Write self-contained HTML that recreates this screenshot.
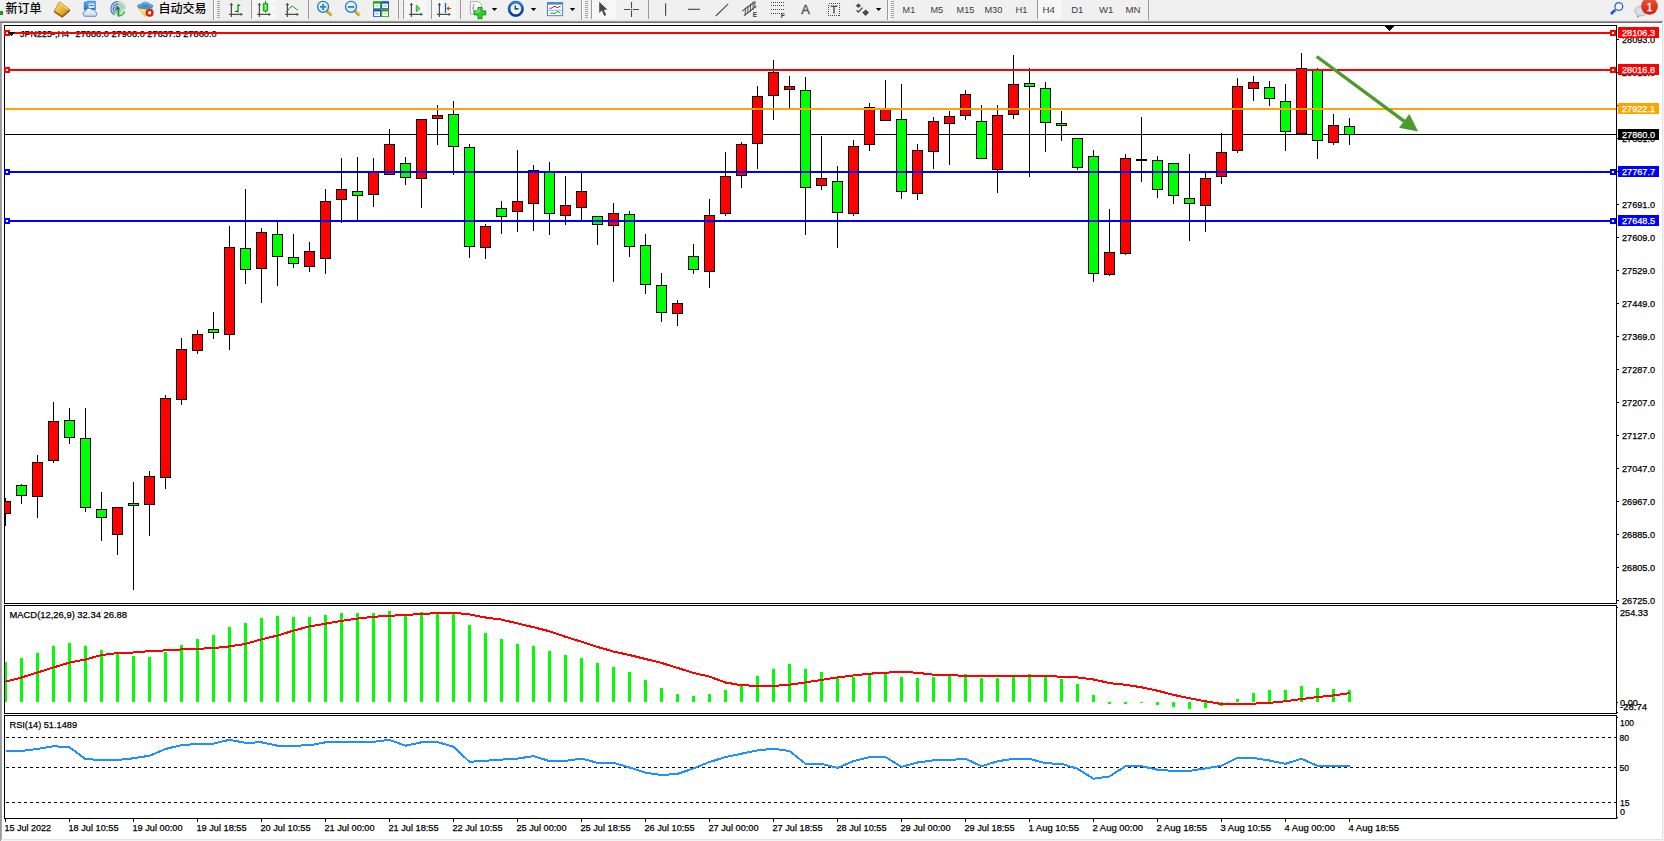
<!DOCTYPE html>
<html lang="zh"><head><meta charset="utf-8"><title>JPN225-,H4</title>
<style>html,body{margin:0;padding:0;background:#fff;}body{width:1664px;height:841px;overflow:hidden;}svg{display:block;position:absolute;left:0;top:0;}text{font-family:"Liberation Sans", "Noto Sans CJK SC", sans-serif;}.c{shape-rendering:crispEdges;}.t{font-size:9.6px;fill:#000;stroke:#000;stroke-width:0.25px;}.w{font-size:9.6px;fill:#fff;stroke:#fff;stroke-width:0.25px;}.tf{font-size:9.7px;fill:#3c3c3c;}.cj{font-size:12px;fill:#000;font-weight:500;}</style></head><body>
<svg width="1664" height="841" viewBox="0 0 1664 841">
<g class="c">
<rect x="0" y="0" width="1664" height="841" fill="#ffffff"/>
<rect x="0" y="0" width="1664" height="20" fill="#f0f0f0"/>
<rect x="0" y="20" width="1663" height="1" fill="#e3e3e3"/>
<rect x="0" y="21" width="1663" height="1" fill="#a0a0a0"/>
<rect x="0" y="22" width="1662" height="1" fill="#696969"/>
<rect x="0" y="21" width="1" height="820" fill="#9a9a9a"/>
<rect x="1" y="23" width="1" height="817" fill="#a6a6a6"/>
<rect x="1662" y="23" width="1" height="817" fill="#e3e3e3"/>
<rect x="1663" y="20" width="1" height="821" fill="#f4f4f4"/>
<rect x="1" y="839" width="1662" height="1" fill="#e3e3e3"/>
<rect x="1" y="840" width="1663" height="1" fill="#f4f4f4"/>
</g>
<defs>
<linearGradient id="gGold" x1="0" y1="0" x2="1" y2="1"><stop offset="0" stop-color="#fbe58a"/><stop offset="0.5" stop-color="#e9b630"/><stop offset="1" stop-color="#b97c14"/></linearGradient>
<linearGradient id="gBlue" x1="0" y1="0" x2="0" y2="1"><stop offset="0" stop-color="#5ab4f6"/><stop offset="1" stop-color="#1a72d6"/></linearGradient>
<linearGradient id="gCloud" x1="0" y1="0" x2="0" y2="1"><stop offset="0" stop-color="#ffffff"/><stop offset="1" stop-color="#c5d2ea"/></linearGradient>
<linearGradient id="gHat" x1="0" y1="0" x2="0" y2="1"><stop offset="0" stop-color="#7cc0ec"/><stop offset="1" stop-color="#2a7fc4"/></linearGradient>
<linearGradient id="gYel" x1="0" y1="0" x2="1" y2="1"><stop offset="0" stop-color="#fff3a0"/><stop offset="1" stop-color="#e8b820"/></linearGradient>
<linearGradient id="gRed" x1="0" y1="0" x2="0" y2="1"><stop offset="0" stop-color="#ea5a3c"/><stop offset="1" stop-color="#d51c0c"/></linearGradient>
<linearGradient id="gGreen" x1="0" y1="0" x2="1" y2="0"><stop offset="0" stop-color="#0fc40f"/><stop offset="0.5" stop-color="#7dff7d"/><stop offset="1" stop-color="#0fc40f"/></linearGradient>
<radialGradient id="gLens" cx="0.4" cy="0.35" r="0.7"><stop offset="0" stop-color="#f4fcff"/><stop offset="1" stop-color="#bfe6f6"/></radialGradient>
<radialGradient id="gSig" cx="0.5" cy="0.5" r="0.5"><stop offset="0" stop-color="#8fcf8f" stop-opacity="0.9"/><stop offset="0.7" stop-color="#9fd09f" stop-opacity="0.6"/><stop offset="1" stop-color="#b0d8b0" stop-opacity="0.1"/></radialGradient>
<pattern id="pChk" width="2" height="2" patternUnits="userSpaceOnUse"><rect width="2" height="2" fill="#f0f0f0"/><rect width="1" height="1" fill="#ffffff"/><rect x="1" y="1" width="1" height="1" fill="#ffffff"/></pattern>
<g id="axes"><path d="M2.4 4V16.9M0 14.4H12.6" fill="none" stroke="#4d4d4d" stroke-width="1.25"/><path d="M2.4 2.6L0.7 5.3H4.1ZM14 14.4L11.6 12.7V16.1Z" fill="#4d4d4d"/></g>
<path id="dd" d="M0 0h5.4l-2.7 3z" fill="#000"/>
<g id="grip" class="c" fill="#a6a6a6"><rect y="1" width="3" height="1"/><rect y="3" width="3" height="1"/><rect y="5" width="3" height="1"/><rect y="7" width="3" height="1"/><rect y="9" width="3" height="1"/><rect y="11" width="3" height="1"/><rect y="13" width="3" height="1"/><rect y="15" width="3" height="1"/><rect y="17" width="3" height="1"/></g>
<linearGradient id="gClk" x1="0" y1="0" x2="0" y2="1"><stop offset="0" stop-color="#2a80e8"/><stop offset="1" stop-color="#0a3a9a"/></linearGradient>
</defs>
<g id="toolbar">
<!-- pressed button backgrounds -->
<g class="c">
<rect x="252" y="0" width="24" height="19" fill="url(#pChk)"/>
<rect x="404" y="0" width="24" height="19" fill="url(#pChk)"/>
<rect x="432" y="0" width="24" height="19" fill="url(#pChk)"/>
<rect x="592" y="0" width="24" height="19" fill="url(#pChk)"/>
<rect x="1038" y="0" width="24" height="19" fill="url(#pChk)"/>
<!-- separators -->
<g fill="#9a9a9a">
<rect x="213" y="0" width="1" height="20"/>
<rect x="251" y="0" width="1" height="19"/>
<rect x="308" y="0" width="1" height="19"/>
<rect x="398" y="0" width="1" height="19"/>
<rect x="403" y="0" width="1" height="19"/>
<rect x="431" y="0" width="1" height="19"/>
<rect x="460" y="0" width="1" height="19"/>
<rect x="581" y="0" width="1" height="20"/>
<rect x="591" y="0" width="1" height="19"/>
<rect x="648" y="0" width="1" height="19"/>
<rect x="887" y="0" width="1" height="20"/>
<rect x="1037" y="0" width="1" height="19"/>
<rect x="1148" y="0" width="1" height="20"/>
</g>
<g fill="#ffffff"><rect x="214" y="0" width="1" height="20"/><rect x="582" y="0" width="1" height="20"/><rect x="888" y="0" width="1" height="20"/></g>
<rect x="0" y="11" width="3" height="4" fill="#1f9a1f"/>
</g>
<use href="#grip" x="217" y="0"/><use href="#grip" x="585" y="0"/><use href="#grip" x="891" y="0"/>

<text class="cj" x="5.5" y="12.6">新订单</text>
<text class="cj" x="158.5" y="12.6">自动交易</text>

<!-- book -->
<path d="M59.8 2.1C58.4 2.6 57.6 4.2 57.2 6L54 11.2L62.3 16.9L69.9 9.9Z" fill="url(#gGold)" stroke="#a06c10" stroke-width="0.7" stroke-linejoin="round"/>
<path d="M54.3 11.6L62.3 16.8L69.7 10.4" fill="none" stroke="#8a5a0e" stroke-width="1.5" stroke-linejoin="round"/>
<path d="M60.2 3.4L67.6 9.2" fill="none" stroke="#fff4b8" stroke-width="0.8"/>
<!-- computer + cloud -->
<path d="M84.2 2.4L88 1.2H95.3V9.9H84.2Z" fill="url(#gBlue)" stroke="#1565c8" stroke-width="0.6"/>
<rect x="88.6" y="3.4" width="5.8" height="4.6" fill="#d8ecfb"/>
<rect x="89.5" y="5" width="4" height="1" fill="#2a7fd8"/>
<path d="M85 16.3a2.6 2.6 0 0 1 0.6-5.1a3.4 3.4 0 0 1 6.3-1.2a2.5 2.5 0 0 1 3.6 2.1a2.2 2.2 0 0 1-0.3 4.2z" fill="url(#gCloud)" stroke="#5f7fba" stroke-width="0.9"/>
<!-- signal -->
<circle cx="118" cy="8.8" r="7.4" fill="url(#gSig)"/>
<g fill="none" stroke="#3a6fd0" stroke-width="1.1"><path d="M118 1.6a7.2 7.2 0 0 0 -3.5 13.4"/><path d="M118 4a4.8 4.8 0 0 0 -2.6 8.8"/><path d="M118 6.4a2.4 2.4 0 0 0 -1.4 4.3" /></g>
<g fill="none" stroke="#8fc29a" stroke-width="1"><path d="M118 1.6a7.2 7.2 0 0 1 7.2 7.2"/><path d="M118 4a4.8 4.8 0 0 1 4.8 4.8"/></g>
<circle cx="118" cy="8.6" r="1.6" fill="#2456c8"/>
<path d="M118.4 9.4V16.4" stroke="#16a616" stroke-width="1.8" fill="none"/>
<path d="M118.4 16.2a7.4 7.4 0 0 0 6.4 -4.6" stroke="#2fae3a" stroke-width="1.3" fill="none"/>
<!-- hat + stop -->
<path d="M138.2 8.4L145.2 16.6L152.4 8.4Z" fill="url(#gYel)" stroke="#d8a818" stroke-width="0.6"/>
<ellipse cx="145.2" cy="6.2" rx="7.8" ry="2.6" fill="url(#gHat)" stroke="#2a78b8" stroke-width="0.6"/>
<ellipse cx="145.4" cy="4" rx="4" ry="2.6" fill="url(#gHat)"/>
<circle cx="149.6" cy="12.8" r="4" fill="#d62410"/>
<rect x="148.2" y="11.4" width="2.8" height="2.8" fill="#ffffff"/>

<!-- chart type icons -->
<use href="#axes" x="229" y="0"/>
<path d="M238 4.3V12.6M238 5.3H240.3M235 11.4H238" fill="none" stroke="#0a800a" stroke-width="1.25"/>
<use href="#axes" x="257" y="0"/>
<path d="M265.5 1.2V12.6" stroke="#0a8a0a" stroke-width="1.2" fill="none"/>
<rect x="263.3" y="3.7" width="4.4" height="7.2" fill="url(#gGreen)" stroke="#0a9a0a" stroke-width="0.9"/>
<use href="#axes" x="285" y="0"/>
<path d="M286.2 11.8C288.5 10.6 290 6.3 292.4 6.3C294.2 6.3 295.6 9.4 297.8 10.2" fill="none" stroke="#1a8a1a" stroke-width="1"/>

<!-- zoom in / out -->
<path d="M327 11L331.6 15.4" stroke="#c8a21c" stroke-width="3.2" fill="none" stroke-linecap="butt"/>
<path d="M327.6 10.6L332.4 14.8" stroke="#f0d878" stroke-width="1" fill="none"/>
<circle cx="323.1" cy="6.8" r="5.5" fill="url(#gLens)" stroke="#2a78c4" stroke-width="1.3"/>
<path d="M320 6.9H326.2M323.1 3.8V10" stroke="#3a82b4" stroke-width="1.9" fill="none"/>
<path d="M354.9 11L359.5 15.4" stroke="#c8a21c" stroke-width="3.2" fill="none"/>
<path d="M355.5 10.6L360.3 14.8" stroke="#f0d878" stroke-width="1" fill="none"/>
<circle cx="351" cy="6.8" r="5.5" fill="url(#gLens)" stroke="#2a78c4" stroke-width="1.3"/>
<path d="M347.9 6.9H354.1" stroke="#3a82b4" stroke-width="1.9" fill="none"/>
<!-- tile grid -->
<g>
<rect x="373.1" y="1.2" width="7.9" height="7.8" fill="#2f9d12"/><rect x="381.1" y="1.2" width="7.9" height="7.8" fill="#1b50d2"/>
<rect x="373.1" y="9.1" width="7.9" height="7.8" fill="#1b50d2"/><rect x="381.1" y="9.1" width="7.9" height="7.8" fill="#2f9d12"/>
<g fill="#ffffff"><rect x="374.2" y="3.6" width="5.8" height="4.6"/><rect x="382.2" y="3.6" width="5.8" height="4.6"/><rect x="374.2" y="11.5" width="5.8" height="4.6"/><rect x="382.2" y="11.5" width="5.8" height="4.6"/></g>
<rect x="375.3" y="5.4" width="3.6" height="0.9" fill="#8ed070"/><rect x="383.3" y="5.4" width="3.6" height="0.9" fill="#7fa0f0"/>
<rect x="375.3" y="13.3" width="3.6" height="0.9" fill="#7fa0f0"/><rect x="383.3" y="13.3" width="3.6" height="0.9" fill="#8ed070"/>
</g>

<!-- autoscroll / shift -->
<use href="#axes" x="409" y="0"/>
<path d="M416.3 5.2V11.8L420 8.5Z" fill="#5fe85f" stroke="#14a814" stroke-width="0.9"/>
<use href="#axes" x="437" y="0"/>
<path d="M445.5 3V12.9" stroke="#1a6aa8" stroke-width="1.4" fill="none"/>
<path d="M446.3 8.5L449 6.2V7.9H451V9.1H449V10.8Z" fill="#d84a00"/>

<!-- new indicator -->
<path d="M470.4 1.6H478.6L481.6 4.6V14H470.4Z" fill="#fbfbfb" stroke="#9a9a9a" stroke-width="0.8"/>
<path d="M474.6 4.2c-1.6 0-1.2 3-1.2 3c0 1-0.9 1-0.9 1s0.9 0 0.9 1c0 0-0.4 3 1.2 3" fill="none" stroke="#6a6a4a" stroke-width="0.8"/>
<path d="M478 7.5H482V10.9H485.8V14.9H482V18.7H478V14.9H474.2V10.9H478Z" fill="#2bd02b" stroke="#0b8c0b" stroke-width="0.9"/><path d="M479 8.5V11.9H475.2" fill="none" stroke="#9df59d" stroke-width="0.9"/>
<use href="#dd" x="491.8" y="8"/>
<!-- clock -->
<circle cx="515.8" cy="8.9" r="6.6" fill="#eef1f6" stroke="url(#gClk)" stroke-width="2.5"/>
<circle cx="515.8" cy="8.9" r="7.7" fill="none" stroke="#0c3f90" stroke-width="0.5"/>
<path d="M515.2 5.4V8.9H518.6" stroke="#111" stroke-width="1.1" fill="none"/>
<use href="#dd" x="530.8" y="8"/>
<!-- template -->
<rect x="547.4" y="2.5" width="15.3" height="13.2" fill="#ffffff" stroke="#3a78c8" stroke-width="0.9"/>
<rect x="547.4" y="2.5" width="15.3" height="2.2" fill="#4a8ada"/>
<rect x="547.4" y="9.8" width="15.3" height="0.8" fill="#6a9ad8"/>
<path d="M549.4 8.2L551.4 8.2L553.2 6.9L555 6.3L556.8 7.4L558.6 7.2L560.6 6.2" fill="none" stroke="#a02000" stroke-width="1"/>
<path d="M550.4 13.6L552.4 13L554.2 13.7L556 12.6L557.6 11.4L559 12.2L560.6 13.6" fill="none" stroke="#0a8a2a" stroke-width="1"/>
<use href="#dd" x="569.8" y="8"/>

<!-- cursor -->
<path d="M599.2 1.8V13L601.9 10.6L604.2 16L606.2 15.1L603.9 9.9L607.3 9.6Z" fill="#484848"/>
<!-- crosshair -->
<path d="M631.5 2V17M624 9.4H639" stroke="#4a4a4a" stroke-width="1.05" fill="none"/>
<rect x="630.4" y="8.3" width="2.2" height="2.2" fill="#f0f0f0"/>
<rect x="631.1" y="9" width="0.9" height="0.9" fill="#4a4a4a"/>
<!-- vline / hline / trend -->
<path d="M665.6 3.2V15.8" stroke="#4a4a4a" stroke-width="1.15" fill="none"/>
<path d="M688 9.3H700" stroke="#4a4a4a" stroke-width="1.15" fill="none"/>
<path d="M715.8 16L728.2 3.9" stroke="#4a4a4a" stroke-width="1.1" fill="none"/>
<!-- channel E -->
<g fill="none" stroke="#444" stroke-width="1.05"><path d="M742.2 11.2L754.4 2M744 15.6L756.2 6.4"/><path d="M745.4 7.6L745.2 15.6M748 5.8L747.8 13.6M750.6 3.8L750.4 11.6M753.2 1.6L753 9.8M755 1.2L754.8 8" stroke-width="0.9"/></g>
<text x="752.8" y="17.4" style="font-size:6.5px;font-weight:bold;fill:#3c3c3c;">E</text>
<!-- fibo F -->
<g class="c" stroke="#4a4a4a" stroke-width="1" stroke-dasharray="1 1" fill="none"><path d="M771 2.5H785"/><path d="M771 5.5H785"/><path d="M771 9.5H785"/><path d="M771 13.5H780"/></g>
<text x="780.8" y="17.6" style="font-size:6.5px;font-weight:bold;fill:#3c3c3c;">F</text>
<!-- A text -->
<text x="801.3" y="13.6" style="font-size:12.5px;fill:#555555;stroke:#555555;stroke-width:0.35px;" textLength="8.6" lengthAdjust="spacingAndGlyphs">A</text>
<!-- T label -->
<rect class="c" x="828.5" y="3.5" width="11" height="12" fill="none" stroke="#4a4a4a" stroke-width="1" stroke-dasharray="1 1"/>
<path d="M830.6 6.2H837.4M834 6.2V13.6" stroke="#555" stroke-width="1.5" fill="none"/>
<!-- arrows -->
<path d="M858.4 3.2L861.2 6.2H855.6Z" fill="#4a4a4a"/><path d="M858.4 8L855.8 5.6h5.2z" fill="#4a4a4a"/>
<path d="M856.6 10.2L858.4 12L862.6 7.6" fill="none" stroke="#4a4a4a" stroke-width="1.3"/>
<path d="M862.2 12.4L865.8 9.6L869 12.4L865.6 16Z" fill="#4a4a4a"/>
<use href="#dd" x="875.9" y="8"/>

<!-- timeframes -->
<text class="tf" x="902.6" y="13" textLength="12.6" lengthAdjust="spacingAndGlyphs">M1</text>
<text class="tf" x="930.4" y="13" textLength="12.8" lengthAdjust="spacingAndGlyphs">M5</text>
<text class="tf" x="956.6" y="13" textLength="17.6" lengthAdjust="spacingAndGlyphs">M15</text>
<text class="tf" x="984.4" y="13" textLength="18" lengthAdjust="spacingAndGlyphs">M30</text>
<text class="tf" x="1015.4" y="13" textLength="12" lengthAdjust="spacingAndGlyphs">H1</text>
<text class="tf" x="1042.4" y="13" textLength="12.4" lengthAdjust="spacingAndGlyphs">H4</text>
<text class="tf" x="1071.2" y="13" textLength="12.2" lengthAdjust="spacingAndGlyphs">D1</text>
<text class="tf" x="1099" y="13" textLength="14.4" lengthAdjust="spacingAndGlyphs">W1</text>
<text class="tf" x="1125.6" y="13" textLength="15" lengthAdjust="spacingAndGlyphs">MN</text>

<!-- search -->
<path d="M1615.2 9.8L1611 14" stroke="#1f50c8" stroke-width="2.6" fill="none"/>
<circle cx="1618.8" cy="6.5" r="3.9" fill="#f6f8ff" stroke="#2a5fd4" stroke-width="1.3"/>
<!-- chat bubble + badge -->
<path d="M1636 15.6L1638.4 18L1639.6 15.8" fill="#9a9a9a"/>
<ellipse cx="1641" cy="11" rx="6" ry="4.9" fill="#d9dcea" stroke="#b4b4b8" stroke-width="1"/>
<circle cx="1649.5" cy="6.3" r="8.4" fill="url(#gRed)"/>
<text x="1646.2" y="11.1" style="font-family:'Liberation Serif',serif;font-size:13px;fill:#ffffff;stroke:#ffffff;stroke-width:0.35px;">1</text>
</g>

<g class="c" fill="none" stroke="#000" stroke-width="1">
<rect x="4.5" y="25.5" width="1612" height="578"/>
<rect x="4.5" y="605.5" width="1612" height="108"/>
<rect x="4.5" y="715.5" width="1612" height="103"/>
</g>
<text class="t" x="20" y="37" textLength="49" lengthAdjust="spacingAndGlyphs">JPN225-,H4</text>
<text class="t" x="75.6" y="37" textLength="141" lengthAdjust="spacingAndGlyphs">27888.0 27908.0 27837.5 27860.0</text>
<path class="c" d="M1385 26h9l-4.5 5z" fill="#000"/>
<g class="c" fill="#000">
<rect x="1617" y="600" width="2" height="1"/>
<rect x="1617" y="567" width="2" height="1"/>
<rect x="1617" y="534" width="2" height="1"/>
<rect x="1617" y="501" width="2" height="1"/>
<rect x="1617" y="468" width="2" height="1"/>
<rect x="1617" y="435" width="2" height="1"/>
<rect x="1617" y="402" width="2" height="1"/>
<rect x="1617" y="369" width="2" height="1"/>
<rect x="1617" y="336" width="2" height="1"/>
<rect x="1617" y="303" width="2" height="1"/>
<rect x="1617" y="270" width="2" height="1"/>
<rect x="1617" y="237" width="2" height="1"/>
<rect x="1617" y="204" width="2" height="1"/>
<rect x="1617" y="171" width="2" height="1"/>
<rect x="1617" y="138" width="2" height="1"/>
<rect x="1617" y="105" width="2" height="1"/>
<rect x="1617" y="72" width="2" height="1"/>
<rect x="1617" y="39" width="2" height="1"/>
<rect x="1617" y="607" width="1" height="1"/><rect x="1617" y="702" width="1" height="1"/><rect x="1617" y="712" width="1" height="1"/>
<rect x="1617" y="717" width="1" height="1"/><rect x="1617" y="817" width="1" height="1"/>
</g>
<text class="t" x="1622" y="604" textLength="33" lengthAdjust="spacingAndGlyphs">26725.0</text>
<text class="t" x="1622" y="571" textLength="33" lengthAdjust="spacingAndGlyphs">26805.0</text>
<text class="t" x="1622" y="538" textLength="33" lengthAdjust="spacingAndGlyphs">26885.0</text>
<text class="t" x="1622" y="505" textLength="33" lengthAdjust="spacingAndGlyphs">26967.0</text>
<text class="t" x="1622" y="472" textLength="33" lengthAdjust="spacingAndGlyphs">27047.0</text>
<text class="t" x="1622" y="439" textLength="33" lengthAdjust="spacingAndGlyphs">27127.0</text>
<text class="t" x="1622" y="406" textLength="33" lengthAdjust="spacingAndGlyphs">27207.0</text>
<text class="t" x="1622" y="373" textLength="33" lengthAdjust="spacingAndGlyphs">27287.0</text>
<text class="t" x="1622" y="340" textLength="33" lengthAdjust="spacingAndGlyphs">27369.0</text>
<text class="t" x="1622" y="307" textLength="33" lengthAdjust="spacingAndGlyphs">27449.0</text>
<text class="t" x="1622" y="274" textLength="33" lengthAdjust="spacingAndGlyphs">27529.0</text>
<text class="t" x="1622" y="241" textLength="33" lengthAdjust="spacingAndGlyphs">27609.0</text>
<text class="t" x="1622" y="208" textLength="33" lengthAdjust="spacingAndGlyphs">27691.0</text>
<text class="t" x="1622" y="175" textLength="33" lengthAdjust="spacingAndGlyphs">27771.0</text>
<text class="t" x="1622" y="142" textLength="33" lengthAdjust="spacingAndGlyphs">27851.0</text>
<text class="t" x="1622" y="109" textLength="33" lengthAdjust="spacingAndGlyphs">27931.0</text>
<text class="t" x="1622" y="76" textLength="33" lengthAdjust="spacingAndGlyphs">28013.0</text>
<text class="t" x="1622" y="43" textLength="33" lengthAdjust="spacingAndGlyphs">28093.0</text>
<g class="c">
<rect x="5" y="134" width="1611" height="1" fill="#000"/>
<rect x="5" y="498" width="1" height="28" fill="#000"/>
<rect x="5" y="501" width="6" height="13" fill="#000"/>
<rect x="5" y="502" width="5" height="11" fill="#ff0000"/>
<rect x="21" y="484" width="1" height="20" fill="#000"/>
<rect x="16" y="485" width="11" height="11" fill="#000"/>
<rect x="17" y="486" width="9" height="9" fill="#00ff00"/>
<rect x="37" y="455" width="1" height="63" fill="#000"/>
<rect x="32" y="462" width="11" height="35" fill="#000"/>
<rect x="33" y="463" width="9" height="33" fill="#ff0000"/>
<rect x="53" y="402" width="1" height="61" fill="#000"/>
<rect x="48" y="421" width="11" height="40" fill="#000"/>
<rect x="49" y="422" width="9" height="38" fill="#ff0000"/>
<rect x="69" y="408" width="1" height="36" fill="#000"/>
<rect x="64" y="420" width="11" height="18" fill="#000"/>
<rect x="65" y="421" width="9" height="16" fill="#00ff00"/>
<rect x="85" y="408" width="1" height="104" fill="#000"/>
<rect x="80" y="438" width="11" height="70" fill="#000"/>
<rect x="81" y="439" width="9" height="68" fill="#00ff00"/>
<rect x="101" y="492" width="1" height="49" fill="#000"/>
<rect x="96" y="509" width="11" height="9" fill="#000"/>
<rect x="97" y="510" width="9" height="7" fill="#00ff00"/>
<rect x="117" y="507" width="1" height="48" fill="#000"/>
<rect x="112" y="507" width="11" height="28" fill="#000"/>
<rect x="113" y="508" width="9" height="26" fill="#ff0000"/>
<rect x="133" y="482" width="1" height="108" fill="#000"/>
<rect x="128" y="503" width="11" height="3" fill="#000"/>
<rect x="129" y="504" width="9" height="1" fill="#00ff00"/>
<rect x="149" y="471" width="1" height="65" fill="#000"/>
<rect x="144" y="476" width="11" height="29" fill="#000"/>
<rect x="145" y="477" width="9" height="27" fill="#ff0000"/>
<rect x="165" y="395" width="1" height="94" fill="#000"/>
<rect x="160" y="398" width="11" height="80" fill="#000"/>
<rect x="161" y="399" width="9" height="78" fill="#ff0000"/>
<rect x="181" y="338" width="1" height="67" fill="#000"/>
<rect x="176" y="349" width="11" height="51" fill="#000"/>
<rect x="177" y="350" width="9" height="49" fill="#ff0000"/>
<rect x="197" y="330" width="1" height="24" fill="#000"/>
<rect x="192" y="334" width="11" height="17" fill="#000"/>
<rect x="193" y="335" width="9" height="15" fill="#ff0000"/>
<rect x="213" y="312" width="1" height="27" fill="#000"/>
<rect x="208" y="329" width="11" height="4" fill="#000"/>
<rect x="209" y="330" width="9" height="2" fill="#00ff00"/>
<rect x="229" y="226" width="1" height="124" fill="#000"/>
<rect x="224" y="247" width="11" height="88" fill="#000"/>
<rect x="225" y="248" width="9" height="86" fill="#ff0000"/>
<rect x="245" y="189" width="1" height="95" fill="#000"/>
<rect x="240" y="248" width="11" height="22" fill="#000"/>
<rect x="241" y="249" width="9" height="20" fill="#00ff00"/>
<rect x="261" y="228" width="1" height="75" fill="#000"/>
<rect x="256" y="232" width="11" height="37" fill="#000"/>
<rect x="257" y="233" width="9" height="35" fill="#ff0000"/>
<rect x="277" y="221" width="1" height="65" fill="#000"/>
<rect x="272" y="234" width="11" height="23" fill="#000"/>
<rect x="273" y="235" width="9" height="21" fill="#00ff00"/>
<rect x="293" y="234" width="1" height="34" fill="#000"/>
<rect x="288" y="257" width="11" height="7" fill="#000"/>
<rect x="289" y="258" width="9" height="5" fill="#00ff00"/>
<rect x="309" y="242" width="1" height="30" fill="#000"/>
<rect x="304" y="251" width="11" height="16" fill="#000"/>
<rect x="305" y="252" width="9" height="14" fill="#ff0000"/>
<rect x="325" y="189" width="1" height="85" fill="#000"/>
<rect x="320" y="201" width="11" height="58" fill="#000"/>
<rect x="321" y="202" width="9" height="56" fill="#ff0000"/>
<rect x="341" y="158" width="1" height="65" fill="#000"/>
<rect x="336" y="189" width="11" height="11" fill="#000"/>
<rect x="337" y="190" width="9" height="9" fill="#ff0000"/>
<rect x="357" y="157" width="1" height="64" fill="#000"/>
<rect x="352" y="191" width="11" height="5" fill="#000"/>
<rect x="353" y="192" width="9" height="3" fill="#00ff00"/>
<rect x="373" y="158" width="1" height="49" fill="#000"/>
<rect x="368" y="172" width="11" height="23" fill="#000"/>
<rect x="369" y="173" width="9" height="21" fill="#ff0000"/>
<rect x="389" y="129" width="1" height="46" fill="#000"/>
<rect x="384" y="144" width="11" height="31" fill="#000"/>
<rect x="385" y="145" width="9" height="29" fill="#ff0000"/>
<rect x="405" y="157" width="1" height="28" fill="#000"/>
<rect x="400" y="163" width="11" height="15" fill="#000"/>
<rect x="401" y="164" width="9" height="13" fill="#00ff00"/>
<rect x="421" y="119" width="1" height="89" fill="#000"/>
<rect x="416" y="119" width="11" height="60" fill="#000"/>
<rect x="417" y="120" width="9" height="58" fill="#ff0000"/>
<rect x="437" y="105" width="1" height="40" fill="#000"/>
<rect x="432" y="115" width="11" height="4" fill="#000"/>
<rect x="433" y="116" width="9" height="2" fill="#ff0000"/>
<rect x="453" y="101" width="1" height="74" fill="#000"/>
<rect x="448" y="114" width="11" height="33" fill="#000"/>
<rect x="449" y="115" width="9" height="31" fill="#00ff00"/>
<rect x="469" y="144" width="1" height="114" fill="#000"/>
<rect x="464" y="147" width="11" height="100" fill="#000"/>
<rect x="465" y="148" width="9" height="98" fill="#00ff00"/>
<rect x="485" y="224" width="1" height="35" fill="#000"/>
<rect x="480" y="226" width="11" height="22" fill="#000"/>
<rect x="481" y="227" width="9" height="20" fill="#ff0000"/>
<rect x="501" y="201" width="1" height="33" fill="#000"/>
<rect x="496" y="208" width="11" height="9" fill="#000"/>
<rect x="497" y="209" width="9" height="7" fill="#00ff00"/>
<rect x="517" y="150" width="1" height="82" fill="#000"/>
<rect x="512" y="201" width="11" height="11" fill="#000"/>
<rect x="513" y="202" width="9" height="9" fill="#ff0000"/>
<rect x="533" y="165" width="1" height="66" fill="#000"/>
<rect x="528" y="170" width="11" height="34" fill="#000"/>
<rect x="529" y="171" width="9" height="32" fill="#ff0000"/>
<rect x="549" y="162" width="1" height="73" fill="#000"/>
<rect x="544" y="172" width="11" height="42" fill="#000"/>
<rect x="545" y="173" width="9" height="40" fill="#00ff00"/>
<rect x="565" y="176" width="1" height="49" fill="#000"/>
<rect x="560" y="205" width="11" height="11" fill="#000"/>
<rect x="561" y="206" width="9" height="9" fill="#ff0000"/>
<rect x="581" y="173" width="1" height="49" fill="#000"/>
<rect x="576" y="191" width="11" height="17" fill="#000"/>
<rect x="577" y="192" width="9" height="15" fill="#ff0000"/>
<rect x="597" y="216" width="1" height="29" fill="#000"/>
<rect x="592" y="216" width="11" height="9" fill="#000"/>
<rect x="593" y="217" width="9" height="7" fill="#00ff00"/>
<rect x="613" y="203" width="1" height="79" fill="#000"/>
<rect x="608" y="213" width="11" height="13" fill="#000"/>
<rect x="609" y="214" width="9" height="11" fill="#ff0000"/>
<rect x="629" y="211" width="1" height="46" fill="#000"/>
<rect x="624" y="214" width="11" height="33" fill="#000"/>
<rect x="625" y="215" width="9" height="31" fill="#00ff00"/>
<rect x="645" y="234" width="1" height="60" fill="#000"/>
<rect x="640" y="245" width="11" height="40" fill="#000"/>
<rect x="641" y="246" width="9" height="38" fill="#00ff00"/>
<rect x="661" y="273" width="1" height="49" fill="#000"/>
<rect x="656" y="285" width="11" height="28" fill="#000"/>
<rect x="657" y="286" width="9" height="26" fill="#00ff00"/>
<rect x="677" y="300" width="1" height="26" fill="#000"/>
<rect x="672" y="303" width="11" height="11" fill="#000"/>
<rect x="673" y="304" width="9" height="9" fill="#ff0000"/>
<rect x="693" y="244" width="1" height="30" fill="#000"/>
<rect x="688" y="256" width="11" height="14" fill="#000"/>
<rect x="689" y="257" width="9" height="12" fill="#00ff00"/>
<rect x="709" y="199" width="1" height="89" fill="#000"/>
<rect x="704" y="215" width="11" height="57" fill="#000"/>
<rect x="705" y="216" width="9" height="55" fill="#ff0000"/>
<rect x="725" y="152" width="1" height="64" fill="#000"/>
<rect x="720" y="176" width="11" height="38" fill="#000"/>
<rect x="721" y="177" width="9" height="36" fill="#ff0000"/>
<rect x="741" y="142" width="1" height="46" fill="#000"/>
<rect x="736" y="144" width="11" height="32" fill="#000"/>
<rect x="737" y="145" width="9" height="30" fill="#ff0000"/>
<rect x="757" y="86" width="1" height="83" fill="#000"/>
<rect x="752" y="96" width="11" height="48" fill="#000"/>
<rect x="753" y="97" width="9" height="46" fill="#ff0000"/>
<rect x="773" y="60" width="1" height="60" fill="#000"/>
<rect x="768" y="72" width="11" height="24" fill="#000"/>
<rect x="769" y="73" width="9" height="22" fill="#ff0000"/>
<rect x="789" y="76" width="1" height="32" fill="#000"/>
<rect x="784" y="86" width="11" height="4" fill="#000"/>
<rect x="785" y="87" width="9" height="2" fill="#ff0000"/>
<rect x="805" y="77" width="1" height="158" fill="#000"/>
<rect x="800" y="90" width="11" height="98" fill="#000"/>
<rect x="801" y="91" width="9" height="96" fill="#00ff00"/>
<rect x="821" y="136" width="1" height="54" fill="#000"/>
<rect x="816" y="178" width="11" height="8" fill="#000"/>
<rect x="817" y="179" width="9" height="6" fill="#ff0000"/>
<rect x="837" y="166" width="1" height="82" fill="#000"/>
<rect x="832" y="181" width="11" height="32" fill="#000"/>
<rect x="833" y="182" width="9" height="30" fill="#00ff00"/>
<rect x="853" y="140" width="1" height="76" fill="#000"/>
<rect x="848" y="146" width="11" height="68" fill="#000"/>
<rect x="849" y="147" width="9" height="66" fill="#ff0000"/>
<rect x="869" y="103" width="1" height="48" fill="#000"/>
<rect x="864" y="107" width="11" height="38" fill="#000"/>
<rect x="865" y="108" width="9" height="36" fill="#ff0000"/>
<rect x="885" y="80" width="1" height="41" fill="#000"/>
<rect x="880" y="108" width="11" height="13" fill="#000"/>
<rect x="881" y="109" width="9" height="11" fill="#ff0000"/>
<rect x="901" y="84" width="1" height="115" fill="#000"/>
<rect x="896" y="119" width="11" height="73" fill="#000"/>
<rect x="897" y="120" width="9" height="71" fill="#00ff00"/>
<rect x="917" y="144" width="1" height="56" fill="#000"/>
<rect x="912" y="150" width="11" height="44" fill="#000"/>
<rect x="913" y="151" width="9" height="42" fill="#ff0000"/>
<rect x="933" y="117" width="1" height="52" fill="#000"/>
<rect x="928" y="121" width="11" height="31" fill="#000"/>
<rect x="929" y="122" width="9" height="29" fill="#ff0000"/>
<rect x="949" y="111" width="1" height="54" fill="#000"/>
<rect x="944" y="116" width="11" height="8" fill="#000"/>
<rect x="945" y="117" width="9" height="6" fill="#ff0000"/>
<rect x="965" y="90" width="1" height="30" fill="#000"/>
<rect x="960" y="94" width="11" height="22" fill="#000"/>
<rect x="961" y="95" width="9" height="20" fill="#ff0000"/>
<rect x="981" y="105" width="1" height="54" fill="#000"/>
<rect x="976" y="121" width="11" height="38" fill="#000"/>
<rect x="977" y="122" width="9" height="36" fill="#00ff00"/>
<rect x="997" y="105" width="1" height="88" fill="#000"/>
<rect x="992" y="115" width="11" height="55" fill="#000"/>
<rect x="993" y="116" width="9" height="53" fill="#ff0000"/>
<rect x="1013" y="55" width="1" height="64" fill="#000"/>
<rect x="1008" y="84" width="11" height="31" fill="#000"/>
<rect x="1009" y="85" width="9" height="29" fill="#ff0000"/>
<rect x="1029" y="68" width="1" height="109" fill="#000"/>
<rect x="1024" y="83" width="11" height="4" fill="#000"/>
<rect x="1025" y="84" width="9" height="2" fill="#00ff00"/>
<rect x="1045" y="82" width="1" height="70" fill="#000"/>
<rect x="1040" y="88" width="11" height="35" fill="#000"/>
<rect x="1041" y="89" width="9" height="33" fill="#00ff00"/>
<rect x="1061" y="111" width="1" height="30" fill="#000"/>
<rect x="1056" y="123" width="11" height="3" fill="#000"/>
<rect x="1057" y="124" width="9" height="1" fill="#00ff00"/>
<rect x="1077" y="138" width="1" height="32" fill="#000"/>
<rect x="1072" y="138" width="11" height="30" fill="#000"/>
<rect x="1073" y="139" width="9" height="28" fill="#00ff00"/>
<rect x="1093" y="150" width="1" height="132" fill="#000"/>
<rect x="1088" y="156" width="11" height="118" fill="#000"/>
<rect x="1089" y="157" width="9" height="116" fill="#00ff00"/>
<rect x="1109" y="209" width="1" height="67" fill="#000"/>
<rect x="1104" y="252" width="11" height="23" fill="#000"/>
<rect x="1105" y="253" width="9" height="21" fill="#ff0000"/>
<rect x="1125" y="154" width="1" height="101" fill="#000"/>
<rect x="1120" y="158" width="11" height="96" fill="#000"/>
<rect x="1121" y="159" width="9" height="94" fill="#ff0000"/>
<rect x="1141" y="117" width="1" height="65" fill="#000"/>
<rect x="1136" y="159" width="11" height="2" fill="#000"/>
<rect x="1157" y="156" width="1" height="42" fill="#000"/>
<rect x="1152" y="160" width="11" height="30" fill="#000"/>
<rect x="1153" y="161" width="9" height="28" fill="#00ff00"/>
<rect x="1173" y="163" width="1" height="41" fill="#000"/>
<rect x="1168" y="163" width="11" height="33" fill="#000"/>
<rect x="1169" y="164" width="9" height="31" fill="#00ff00"/>
<rect x="1189" y="154" width="1" height="87" fill="#000"/>
<rect x="1184" y="198" width="11" height="6" fill="#000"/>
<rect x="1185" y="199" width="9" height="4" fill="#00ff00"/>
<rect x="1205" y="173" width="1" height="59" fill="#000"/>
<rect x="1200" y="178" width="11" height="28" fill="#000"/>
<rect x="1201" y="179" width="9" height="26" fill="#ff0000"/>
<rect x="1221" y="133" width="1" height="51" fill="#000"/>
<rect x="1216" y="152" width="11" height="25" fill="#000"/>
<rect x="1217" y="153" width="9" height="23" fill="#ff0000"/>
<rect x="1237" y="78" width="1" height="75" fill="#000"/>
<rect x="1232" y="86" width="11" height="65" fill="#000"/>
<rect x="1233" y="87" width="9" height="63" fill="#ff0000"/>
<rect x="1253" y="76" width="1" height="25" fill="#000"/>
<rect x="1248" y="82" width="11" height="7" fill="#000"/>
<rect x="1249" y="83" width="9" height="5" fill="#ff0000"/>
<rect x="1269" y="81" width="1" height="25" fill="#000"/>
<rect x="1264" y="87" width="11" height="12" fill="#000"/>
<rect x="1265" y="88" width="9" height="10" fill="#00ff00"/>
<rect x="1285" y="84" width="1" height="67" fill="#000"/>
<rect x="1280" y="101" width="11" height="31" fill="#000"/>
<rect x="1281" y="102" width="9" height="29" fill="#00ff00"/>
<rect x="1301" y="53" width="1" height="81" fill="#000"/>
<rect x="1296" y="68" width="11" height="66" fill="#000"/>
<rect x="1297" y="69" width="9" height="64" fill="#ff0000"/>
<rect x="1317" y="68" width="1" height="91" fill="#000"/>
<rect x="1312" y="69" width="11" height="72" fill="#000"/>
<rect x="1313" y="70" width="9" height="70" fill="#00ff00"/>
<rect x="1333" y="114" width="1" height="31" fill="#000"/>
<rect x="1328" y="125" width="11" height="18" fill="#000"/>
<rect x="1329" y="126" width="9" height="16" fill="#ff0000"/>
<rect x="1349" y="118" width="1" height="27" fill="#000"/>
<rect x="1344" y="126" width="11" height="9" fill="#000"/>
<rect x="1345" y="127" width="9" height="7" fill="#00ff00"/>
<rect x="5" y="32" width="1611" height="2" fill="#ff0000"/>
<rect x="4" y="30" width="6" height="6" fill="#ff0000"/>
<rect x="6" y="32" width="2" height="2" fill="#fff"/>
<rect x="1610" y="30" width="6" height="6" fill="#ff0000"/>
<rect x="1612" y="32" width="2" height="2" fill="#fff"/>
<rect x="5" y="69" width="1611" height="2" fill="#ff0000"/>
<rect x="4" y="67" width="6" height="6" fill="#ff0000"/>
<rect x="6" y="69" width="2" height="2" fill="#fff"/>
<rect x="1610" y="67" width="6" height="6" fill="#ff0000"/>
<rect x="1612" y="69" width="2" height="2" fill="#fff"/>
<rect x="5" y="108" width="1611" height="2" fill="#ffa500"/>
<rect x="5" y="171" width="1611" height="2" fill="#0000ff"/>
<rect x="4" y="169" width="6" height="6" fill="#0000ff"/>
<rect x="6" y="171" width="2" height="2" fill="#fff"/>
<rect x="1610" y="169" width="6" height="6" fill="#0000ff"/>
<rect x="1612" y="171" width="2" height="2" fill="#fff"/>
<rect x="5" y="220" width="1611" height="2" fill="#0000ff"/>
<rect x="4" y="218" width="6" height="6" fill="#0000ff"/>
<rect x="6" y="220" width="2" height="2" fill="#fff"/>
<rect x="1610" y="218" width="6" height="6" fill="#0000ff"/>
<rect x="1612" y="220" width="2" height="2" fill="#fff"/>
<rect x="8" y="32" width="7" height="1" fill="#000"/><rect x="9" y="33" width="5" height="1" fill="#000"/><rect x="10" y="34" width="3" height="1" fill="#000"/><rect x="11" y="35" width="1" height="1" fill="#000"/>
<rect x="1618" y="27" width="41" height="11" fill="#ff0000"/>
<rect x="1618" y="64" width="41" height="11" fill="#ff0000"/>
<rect x="1618" y="103" width="41" height="11" fill="#ffa500"/>
<rect x="1618" y="129" width="41" height="11" fill="#000000"/>
<rect x="1618" y="166" width="41" height="11" fill="#0000ff"/>
<rect x="1618" y="215" width="41" height="11" fill="#0000ff"/>
</g>
<text class="w" x="1622" y="36" textLength="33" lengthAdjust="spacingAndGlyphs">28106.3</text>
<text class="w" x="1622" y="73" textLength="33" lengthAdjust="spacingAndGlyphs">28016.8</text>
<text class="w" x="1622" y="112" textLength="33" lengthAdjust="spacingAndGlyphs">27922.1</text>
<text class="w" x="1622" y="138" textLength="33" lengthAdjust="spacingAndGlyphs">27860.0</text>
<text class="w" x="1622" y="175" textLength="33" lengthAdjust="spacingAndGlyphs">27767.7</text>
<text class="w" x="1622" y="224" textLength="33" lengthAdjust="spacingAndGlyphs">27648.5</text>
<g fill="#4c9b2c" stroke="none">
<path d="M1316.7 56.5L1404.4 121.3" stroke="#4c9b2c" stroke-width="3.4" fill="none"/>
<path d="M1409.4 114L1418.1 131.5L1399 127.8Z"/>
</g>
<g class="c">
<rect x="5" y="662" width="2" height="40" fill="#00ff00"/>
<rect x="20" y="658" width="3" height="44" fill="#00ff00"/>
<rect x="36" y="653" width="3" height="49" fill="#00ff00"/>
<rect x="52" y="646" width="3" height="56" fill="#00ff00"/>
<rect x="68" y="643" width="3" height="59" fill="#00ff00"/>
<rect x="84" y="646" width="3" height="56" fill="#00ff00"/>
<rect x="100" y="650" width="3" height="52" fill="#00ff00"/>
<rect x="116" y="654" width="3" height="48" fill="#00ff00"/>
<rect x="132" y="656" width="3" height="46" fill="#00ff00"/>
<rect x="148" y="657" width="3" height="45" fill="#00ff00"/>
<rect x="164" y="652" width="3" height="50" fill="#00ff00"/>
<rect x="180" y="645" width="3" height="57" fill="#00ff00"/>
<rect x="196" y="639" width="3" height="63" fill="#00ff00"/>
<rect x="212" y="635" width="3" height="67" fill="#00ff00"/>
<rect x="228" y="627" width="3" height="75" fill="#00ff00"/>
<rect x="244" y="623" width="3" height="79" fill="#00ff00"/>
<rect x="260" y="618" width="3" height="84" fill="#00ff00"/>
<rect x="276" y="616" width="3" height="86" fill="#00ff00"/>
<rect x="292" y="617" width="3" height="85" fill="#00ff00"/>
<rect x="308" y="617" width="3" height="85" fill="#00ff00"/>
<rect x="324" y="615" width="3" height="87" fill="#00ff00"/>
<rect x="340" y="613" width="3" height="89" fill="#00ff00"/>
<rect x="356" y="613" width="3" height="89" fill="#00ff00"/>
<rect x="372" y="613" width="3" height="89" fill="#00ff00"/>
<rect x="388" y="611" width="3" height="91" fill="#00ff00"/>
<rect x="404" y="614" width="3" height="88" fill="#00ff00"/>
<rect x="420" y="612" width="3" height="90" fill="#00ff00"/>
<rect x="436" y="612" width="3" height="90" fill="#00ff00"/>
<rect x="452" y="614" width="3" height="88" fill="#00ff00"/>
<rect x="468" y="625" width="3" height="77" fill="#00ff00"/>
<rect x="484" y="633" width="3" height="69" fill="#00ff00"/>
<rect x="500" y="639" width="3" height="63" fill="#00ff00"/>
<rect x="516" y="644" width="3" height="58" fill="#00ff00"/>
<rect x="532" y="646" width="3" height="56" fill="#00ff00"/>
<rect x="548" y="651" width="3" height="51" fill="#00ff00"/>
<rect x="564" y="655" width="3" height="47" fill="#00ff00"/>
<rect x="580" y="658" width="3" height="44" fill="#00ff00"/>
<rect x="596" y="663" width="3" height="39" fill="#00ff00"/>
<rect x="612" y="667" width="3" height="35" fill="#00ff00"/>
<rect x="628" y="672" width="3" height="30" fill="#00ff00"/>
<rect x="644" y="680" width="3" height="22" fill="#00ff00"/>
<rect x="660" y="688" width="3" height="14" fill="#00ff00"/>
<rect x="676" y="694" width="3" height="8" fill="#00ff00"/>
<rect x="692" y="696" width="3" height="6" fill="#00ff00"/>
<rect x="708" y="694" width="3" height="8" fill="#00ff00"/>
<rect x="724" y="690" width="3" height="12" fill="#00ff00"/>
<rect x="740" y="684" width="3" height="18" fill="#00ff00"/>
<rect x="756" y="676" width="3" height="26" fill="#00ff00"/>
<rect x="772" y="669" width="3" height="33" fill="#00ff00"/>
<rect x="788" y="664" width="3" height="38" fill="#00ff00"/>
<rect x="804" y="669" width="3" height="33" fill="#00ff00"/>
<rect x="820" y="672" width="3" height="30" fill="#00ff00"/>
<rect x="836" y="678" width="3" height="24" fill="#00ff00"/>
<rect x="852" y="677" width="3" height="25" fill="#00ff00"/>
<rect x="868" y="674" width="3" height="28" fill="#00ff00"/>
<rect x="884" y="673" width="3" height="29" fill="#00ff00"/>
<rect x="900" y="677" width="3" height="25" fill="#00ff00"/>
<rect x="916" y="678" width="3" height="24" fill="#00ff00"/>
<rect x="932" y="677" width="3" height="25" fill="#00ff00"/>
<rect x="948" y="676" width="3" height="26" fill="#00ff00"/>
<rect x="964" y="674" width="3" height="28" fill="#00ff00"/>
<rect x="980" y="678" width="3" height="24" fill="#00ff00"/>
<rect x="996" y="678" width="3" height="24" fill="#00ff00"/>
<rect x="1012" y="676" width="3" height="26" fill="#00ff00"/>
<rect x="1028" y="674" width="3" height="28" fill="#00ff00"/>
<rect x="1044" y="676" width="3" height="26" fill="#00ff00"/>
<rect x="1060" y="679" width="3" height="23" fill="#00ff00"/>
<rect x="1076" y="684" width="3" height="18" fill="#00ff00"/>
<rect x="1092" y="695" width="3" height="7" fill="#00ff00"/>
<rect x="1108" y="702" width="3" height="2" fill="#00ff00"/>
<rect x="1124" y="702" width="3" height="2" fill="#00ff00"/>
<rect x="1140" y="702" width="3" height="1" fill="#00ff00"/>
<rect x="1156" y="702" width="3" height="3" fill="#00ff00"/>
<rect x="1172" y="702" width="3" height="5" fill="#00ff00"/>
<rect x="1188" y="702" width="3" height="7" fill="#00ff00"/>
<rect x="1204" y="702" width="3" height="6" fill="#00ff00"/>
<rect x="1220" y="702" width="3" height="4" fill="#00ff00"/>
<rect x="1236" y="699" width="3" height="3" fill="#00ff00"/>
<rect x="1252" y="693" width="3" height="9" fill="#00ff00"/>
<rect x="1268" y="690" width="3" height="12" fill="#00ff00"/>
<rect x="1284" y="690" width="3" height="12" fill="#00ff00"/>
<rect x="1300" y="686" width="3" height="16" fill="#00ff00"/>
<rect x="1316" y="688" width="3" height="14" fill="#00ff00"/>
<rect x="1332" y="689" width="3" height="13" fill="#00ff00"/>
<rect x="1348" y="690" width="3" height="12" fill="#00ff00"/>
<polyline points="5.5,681.7 21.5,677.5 37.5,672.5 53.5,667.4 69.5,662.6 85.5,659.5 101.5,655.0 117.5,653.1 133.5,652.5 149.5,651.1 165.5,650.4 181.5,649.4 197.5,648.8 213.5,648.1 229.5,646.4 245.5,643.9 261.5,639.3 277.5,635.6 293.5,630.6 309.5,626.4 325.5,623.7 341.5,620.8 357.5,618.6 373.5,616.8 389.5,615.8 405.5,614.9 421.5,614.1 437.5,613.0 453.5,612.8 469.5,614.4 485.5,617.5 501.5,619.6 517.5,623.4 533.5,627.2 549.5,631.3 565.5,636.8 581.5,641.7 597.5,646.9 613.5,651.6 629.5,655.0 645.5,659.0 661.5,662.9 677.5,667.9 693.5,673.0 709.5,676.6 725.5,682.5 741.5,685.2 757.5,685.9 773.5,685.9 789.5,684.8 805.5,682.4 821.5,679.9 837.5,677.4 853.5,675.5 869.5,673.7 885.5,672.7 901.5,671.8 917.5,672.8 933.5,674.7 949.5,675.0 965.5,676.0 981.5,676.0 997.5,676.0 1013.5,676.0 1029.5,676.0 1045.5,676.0 1061.5,676.7 1077.5,677.5 1093.5,679.5 1109.5,683.1 1125.5,684.8 1141.5,687.3 1157.5,690.7 1173.5,694.9 1189.5,698.2 1205.5,701.3 1221.5,704.0 1237.5,704.0 1253.5,703.6 1269.5,702.9 1285.5,701.2 1301.5,699.1 1317.5,697.1 1333.5,695.4 1349.5,693.2" fill="none" stroke="#ff0000" stroke-width="2" stroke-linejoin="round"/>
</g>
<text class="t" x="9.5" y="618" textLength="117.5" lengthAdjust="spacingAndGlyphs">MACD(12,26,9) 32.34 26.88</text>
<text class="t" x="1620" y="616" textLength="28" lengthAdjust="spacingAndGlyphs">254.33</text>
<text class="t" x="1620" y="706" textLength="18" lengthAdjust="spacingAndGlyphs">0.00</text>
<text class="t" x="1620" y="710" textLength="27" lengthAdjust="spacingAndGlyphs">-28.74</text>
<g class="c">
<path d="M6 737.5H1616" stroke="#000" stroke-width="1" stroke-dasharray="3 3" fill="none"/>
<path d="M6 767.5H1616" stroke="#000" stroke-width="1" stroke-dasharray="3 3" fill="none"/>
<path d="M6 802.5H1616" stroke="#000" stroke-width="1" stroke-dasharray="3 3" fill="none"/>
<polyline points="5.5,751.0 21.5,751.0 37.5,749.0 53.5,746.2 69.5,747.3 85.5,759.1 101.5,760.0 117.5,760.0 133.5,758.3 149.5,755.7 165.5,749.0 181.5,745.1 197.5,744.0 213.5,743.6 229.5,739.8 245.5,742.8 261.5,742.3 277.5,745.7 293.5,745.7 309.5,745.3 325.5,742.3 341.5,742.0 357.5,742.0 373.5,741.8 389.5,739.9 405.5,745.7 421.5,742.3 437.5,742.0 453.5,746.8 469.5,761.8 485.5,760.8 501.5,759.6 517.5,758.6 533.5,756.1 549.5,761.1 565.5,760.8 581.5,758.6 597.5,762.8 613.5,762.8 629.5,767.5 645.5,772.6 661.5,775.1 677.5,773.9 693.5,768.4 709.5,762.0 725.5,757.1 741.5,753.7 757.5,750.4 773.5,748.7 789.5,751.0 805.5,763.8 821.5,763.8 837.5,767.9 853.5,761.1 869.5,757.1 885.5,757.1 901.5,766.9 917.5,762.5 933.5,760.3 949.5,760.0 965.5,758.8 981.5,766.2 997.5,761.3 1013.5,758.8 1029.5,758.8 1045.5,763.3 1061.5,763.8 1077.5,768.7 1093.5,778.8 1109.5,776.4 1125.5,766.2 1141.5,766.2 1157.5,769.7 1173.5,770.9 1189.5,770.9 1205.5,768.4 1221.5,765.8 1237.5,757.9 1253.5,757.9 1269.5,760.5 1285.5,763.8 1301.5,758.8 1317.5,765.8 1333.5,765.8 1349.5,765.8" fill="none" stroke="#1e90ff" stroke-width="2" stroke-linejoin="round"/>
</g>
<text class="t" x="9.5" y="728" textLength="67.5" lengthAdjust="spacingAndGlyphs">RSI(14) 51.1489</text>
<text class="t" x="1620" y="726" textLength="14" lengthAdjust="spacingAndGlyphs">100</text>
<text class="t" x="1619.5" y="741" textLength="9.5" lengthAdjust="spacingAndGlyphs">80</text>
<text class="t" x="1619.5" y="771" textLength="9.5" lengthAdjust="spacingAndGlyphs">50</text>
<text class="t" x="1620" y="806" textLength="9.5" lengthAdjust="spacingAndGlyphs">15</text>
<text class="t" x="1620" y="815" textLength="5" lengthAdjust="spacingAndGlyphs">0</text>
<g class="c" fill="#000">
<rect x="5" y="819" width="1" height="3"/>
<rect x="69" y="819" width="1" height="3"/>
<rect x="133" y="819" width="1" height="3"/>
<rect x="197" y="819" width="1" height="3"/>
<rect x="261" y="819" width="1" height="3"/>
<rect x="325" y="819" width="1" height="3"/>
<rect x="389" y="819" width="1" height="3"/>
<rect x="453" y="819" width="1" height="3"/>
<rect x="517" y="819" width="1" height="3"/>
<rect x="581" y="819" width="1" height="3"/>
<rect x="645" y="819" width="1" height="3"/>
<rect x="709" y="819" width="1" height="3"/>
<rect x="773" y="819" width="1" height="3"/>
<rect x="837" y="819" width="1" height="3"/>
<rect x="901" y="819" width="1" height="3"/>
<rect x="965" y="819" width="1" height="3"/>
<rect x="1029" y="819" width="1" height="3"/>
<rect x="1093" y="819" width="1" height="3"/>
<rect x="1157" y="819" width="1" height="3"/>
<rect x="1221" y="819" width="1" height="3"/>
<rect x="1285" y="819" width="1" height="3"/>
<rect x="1349" y="819" width="1" height="3"/>
</g>
<text class="t" x="4.5" y="831" textLength="46.5" lengthAdjust="spacingAndGlyphs">15 Jul 2022</text>
<text class="t" x="68.5" y="831" textLength="50" lengthAdjust="spacingAndGlyphs">18 Jul 10:55</text>
<text class="t" x="132.5" y="831" textLength="50" lengthAdjust="spacingAndGlyphs">19 Jul 00:00</text>
<text class="t" x="196.5" y="831" textLength="50" lengthAdjust="spacingAndGlyphs">19 Jul 18:55</text>
<text class="t" x="260.5" y="831" textLength="50" lengthAdjust="spacingAndGlyphs">20 Jul 10:55</text>
<text class="t" x="324.5" y="831" textLength="50" lengthAdjust="spacingAndGlyphs">21 Jul 00:00</text>
<text class="t" x="388.5" y="831" textLength="50" lengthAdjust="spacingAndGlyphs">21 Jul 18:55</text>
<text class="t" x="452.5" y="831" textLength="50" lengthAdjust="spacingAndGlyphs">22 Jul 10:55</text>
<text class="t" x="516.5" y="831" textLength="50" lengthAdjust="spacingAndGlyphs">25 Jul 00:00</text>
<text class="t" x="580.5" y="831" textLength="50" lengthAdjust="spacingAndGlyphs">25 Jul 18:55</text>
<text class="t" x="644.5" y="831" textLength="50" lengthAdjust="spacingAndGlyphs">26 Jul 10:55</text>
<text class="t" x="708.5" y="831" textLength="50" lengthAdjust="spacingAndGlyphs">27 Jul 00:00</text>
<text class="t" x="772.5" y="831" textLength="50" lengthAdjust="spacingAndGlyphs">27 Jul 18:55</text>
<text class="t" x="836.5" y="831" textLength="50" lengthAdjust="spacingAndGlyphs">28 Jul 10:55</text>
<text class="t" x="900.5" y="831" textLength="50" lengthAdjust="spacingAndGlyphs">29 Jul 00:00</text>
<text class="t" x="964.5" y="831" textLength="50" lengthAdjust="spacingAndGlyphs">29 Jul 18:55</text>
<text class="t" x="1028.5" y="831" textLength="50.5" lengthAdjust="spacingAndGlyphs">1 Aug 10:55</text>
<text class="t" x="1092.5" y="831" textLength="50.5" lengthAdjust="spacingAndGlyphs">2 Aug 00:00</text>
<text class="t" x="1156.5" y="831" textLength="50.5" lengthAdjust="spacingAndGlyphs">2 Aug 18:55</text>
<text class="t" x="1220.5" y="831" textLength="50.5" lengthAdjust="spacingAndGlyphs">3 Aug 10:55</text>
<text class="t" x="1284.5" y="831" textLength="50.5" lengthAdjust="spacingAndGlyphs">4 Aug 00:00</text>
<text class="t" x="1348.5" y="831" textLength="50.5" lengthAdjust="spacingAndGlyphs">4 Aug 18:55</text>
</svg></body></html>
